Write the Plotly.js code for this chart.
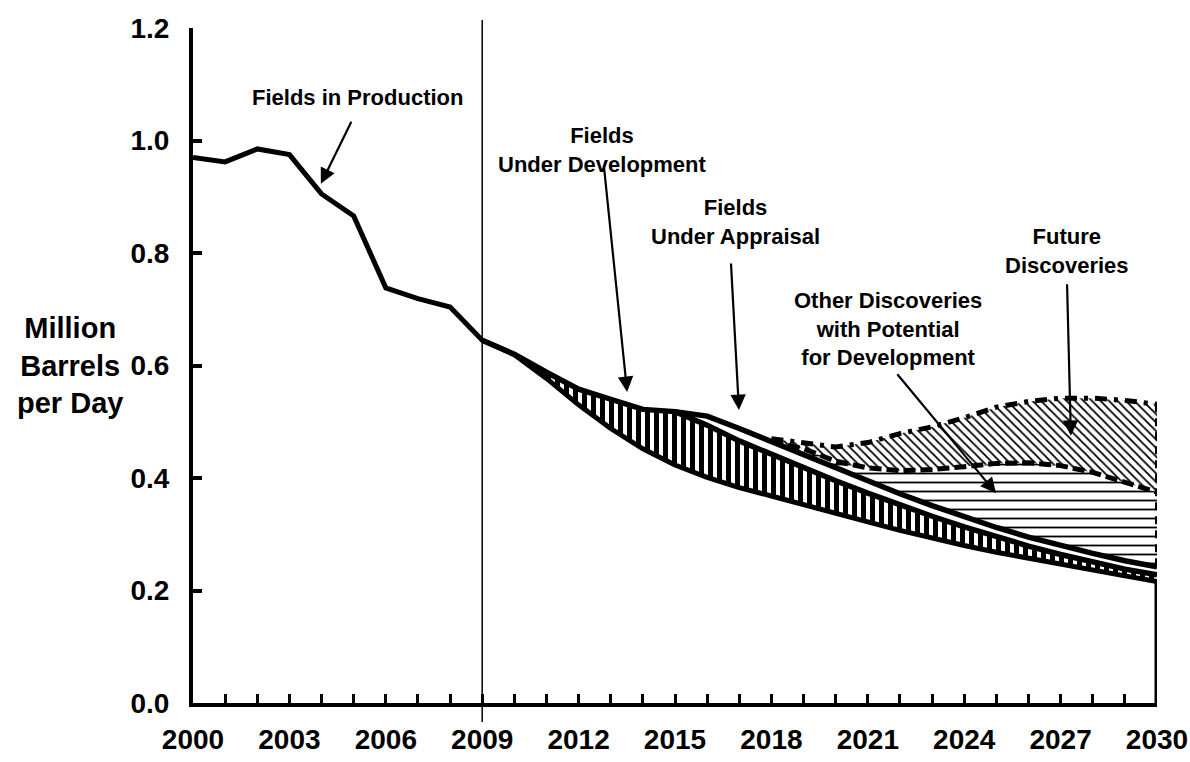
<!DOCTYPE html>
<html>
<head>
<meta charset="utf-8">
<script src="https://cdn.plot.ly/plotly-3.0.1.min.js"></script>
<style>html,body{margin:0;padding:0;background:#fff}#chart{width:1190px;height:762px}</style>
</head>
<body>
<div id="chart"></div>
<script>
// ---- Data (million barrels per day) ----
const years = [2000,2001,2002,2003,2004,2005,2006,2007,2008,2009,2010,2011,2012,2013,2014,2015,
               2016,2017,2018,2019,2020,2021,2022,2023,2024,2025,2026,2027,2028,2029,2030];
// Fields in production
const production = [0.970,0.962,0.985,0.975,0.905,0.866,0.738,0.719,0.704,0.645,0.619,0.577,0.530,0.488,0.452,0.423,
                    0.401,0.383,0.368,0.352,0.337,0.322,0.307,0.293,0.280,0.268,0.257,0.246,0.236,0.226,0.216];
// Stacked totals (top of each band)
const devYears = [2009,2010,2011,2012,2013,2014,2015,2016,2017,2018,2019,2020,2021,2022,2023,2024,2025,2026,2027,2028,2029,2030];
const underDevelopmentTop = [0.645,0.620,0.588,0.558,0.540,0.522,0.518,0.494,0.466,0.442,0.418,0.395,0.373,0.352,0.332,0.313,0.295,0.279,0.264,0.250,0.238,0.228];
const apprYears = [2015,2016,2017,2018,2019,2020,2021,2022,2023,2024,2025,2026,2027,2028,2029,2030];
const underAppraisalTop = [0.518,0.510,0.488,0.465,0.441,0.417,0.394,0.372,0.351,0.331,0.312,0.295,0.280,0.266,0.253,0.242];
const discYears = [2018,2019,2020,2021,2022,2023,2024,2025,2026,2027,2028,2029,2030];
const otherDiscoveriesTop = [0.465,0.452,0.430,0.418,0.413,0.415,0.420,0.426,0.427,0.422,0.410,0.393,0.375];
const futureDiscoveriesTop = [0.470,0.463,0.455,0.463,0.479,0.491,0.507,0.526,0.536,0.542,0.542,0.538,0.531];

const xTickLabels = ['2000','2003','2006','2009','2012','2015','2018','2021','2024','2027','2030'];
const yTickLabels = ['0.0','0.2','0.4','0.6','0.8','1.0','1.2'];

// ---- helpers ----
function lookup(xs, ys, yr){ return ys[xs.indexOf(yr)]; }
function band(xs, upper, lowerXs, lowerYs, pattern){
  const lower = xs.map(yr => lookup(lowerXs, lowerYs, yr));
  return {
    x: xs.concat(xs.slice().reverse()),
    y: upper.concat(lower.slice().reverse()),
    type: 'scatter', mode: 'lines', fill: 'toself',
    line: {width: 0, color: 'rgba(0,0,0,0)'},
    fillcolor: 'white',
    fillpattern: pattern,
    hoverinfo: 'skip', showlegend: false
  };
}
function line(xs, ys, width, dash){
  return {x: xs, y: ys, type: 'scatter', mode: 'lines',
          line: {color: 'black', width: width, dash: dash || 'solid'},
          hoverinfo: 'skip', showlegend: false};
}

const last = production.length - 1;
const dLast = discYears.length - 1;
const aLast = apprYears.length - 1;
const traces = [
  band(devYears, underDevelopmentTop, years, production,
       {shape: '|', fgcolor: 'black', bgcolor: 'white', size: 9, solidity: 0.55}),
  band(apprYears, underAppraisalTop, devYears, underDevelopmentTop,
       {shape: '', fgcolor: 'black', bgcolor: 'white'}),
  band(discYears, otherDiscoveriesTop, apprYears, underAppraisalTop,
       {shape: '-', fgcolor: 'black', bgcolor: 'white', size: 9, solidity: 0.2}),
  band(discYears, futureDiscoveriesTop, discYears, otherDiscoveriesTop,
       {shape: '\\', fgcolor: 'black', bgcolor: 'white', size: 6, solidity: 0.3}),
  line([discYears[dLast], discYears[dLast]], [futureDiscoveriesTop[dLast], underAppraisalTop[aLast]], 4, '8px,6px'),
  line(discYears, futureDiscoveriesTop, 5, '12px,7px,4px,7px'),
  line(discYears, otherDiscoveriesTop, 5, '12px,5px'),
  line(apprYears, underAppraisalTop, 5.5),
  line(devYears, underDevelopmentTop, 5.5),
  line(years, production, 5),
  line([years[last], years[last]], [production[last], 0], 5)
];

const F = 'Liberation Sans, Arial, Helvetica, sans-serif';
function label(text, x, y){
  return {text: text, x: x, y: y, xref: 'x', yref: 'y', showarrow: false,
          xanchor: 'center', yanchor: 'middle', align: 'center',
          font: {family: F, size: 22, color: 'black', weight: 'bold'}};
}
function arrow(x, y, ax, ay){
  return {text: '', x: x, y: y, ax: ax, ay: ay, xref: 'x', yref: 'y', axref: 'x', ayref: 'y',
          showarrow: true, arrowhead: 2, arrowsize: 1.4, arrowwidth: 2.2, arrowcolor: 'black', standoff: 0};
}

const layout = {
  width: 1190, height: 762,
  margin: {l: 193, r: 33, t: 28, b: 59},
  paper_bgcolor: 'white', plot_bgcolor: 'white',
  showlegend: false,
  font: {family: F, color: 'black'},
  xaxis: {
    range: [2000, 2030], tickmode: 'array',
    tickvals: xTickLabels.map(Number), ticktext: xTickLabels,
    ticks: 'inside', ticklen: 9, tickwidth: 3, tickcolor: 'black',
    minor: {tickmode: 'linear', tick0: 2000, dtick: 1, ticks: 'inside', ticklen: 9, tickwidth: 3, tickcolor: 'black'},
    showline: true, linewidth: 4, linecolor: 'black', mirror: false,
    showgrid: false, zeroline: false, fixedrange: true,
    ticklabelstandoff: 8,
    tickfont: {family: F, size: 28, color: 'black', weight: 'bold'}
  },
  yaxis: {
    range: [0, 1.2], tickmode: 'array',
    tickvals: yTickLabels.map(Number), ticktext: yTickLabels,
    ticks: 'inside', ticklen: 9, tickwidth: 4, tickcolor: 'black',
    showline: true, linewidth: 4, linecolor: 'black',
    showgrid: false, zeroline: false, fixedrange: true,
    ticklabelstandoff: 14,
    tickfont: {family: F, size: 28, color: 'black', weight: 'bold'}
  },
  shapes: [
    {type: 'line', xref: 'x', yref: 'paper', x0: 2009, x1: 2009, y0: -0.028, y1: 1.012,
     line: {color: 'black', width: 1.5}, layer: 'below'}
  ],
  annotations: [
    {text: 'Million<br>Barrels<br>per Day', xref: 'paper', yref: 'y', x: -0.128, y: 0.6,
     xanchor: 'center', yanchor: 'middle', align: 'center', showarrow: false,
     font: {family: F, size: 29, color: 'black', weight: 'bold'}},
    label('Fields in Production', 2005.13, 1.077),
    label('Fields<br>Under Development', 2012.73, 0.983),
    label('Fields<br>Under Appraisal', 2016.87, 0.855),
    label('Other Discoveries<br>with Potential<br>for Development', 2021.63, 0.665),
    label('Future<br>Discoveries', 2027.2, 0.804),
    arrow(2003.98, 0.923, 2004.95, 1.036),
    arrow(2013.51, 0.553, 2012.79, 0.953),
    arrow(2016.99, 0.521, 2016.74, 0.784),
    arrow(2024.99, 0.373, 2021.88, 0.587),
    arrow(2027.32, 0.475, 2027.20, 0.747)
  ]
};

Plotly.newPlot('chart', traces, layout, {staticPlot: true, displayModeBar: false});
</script>
</body>
</html>
